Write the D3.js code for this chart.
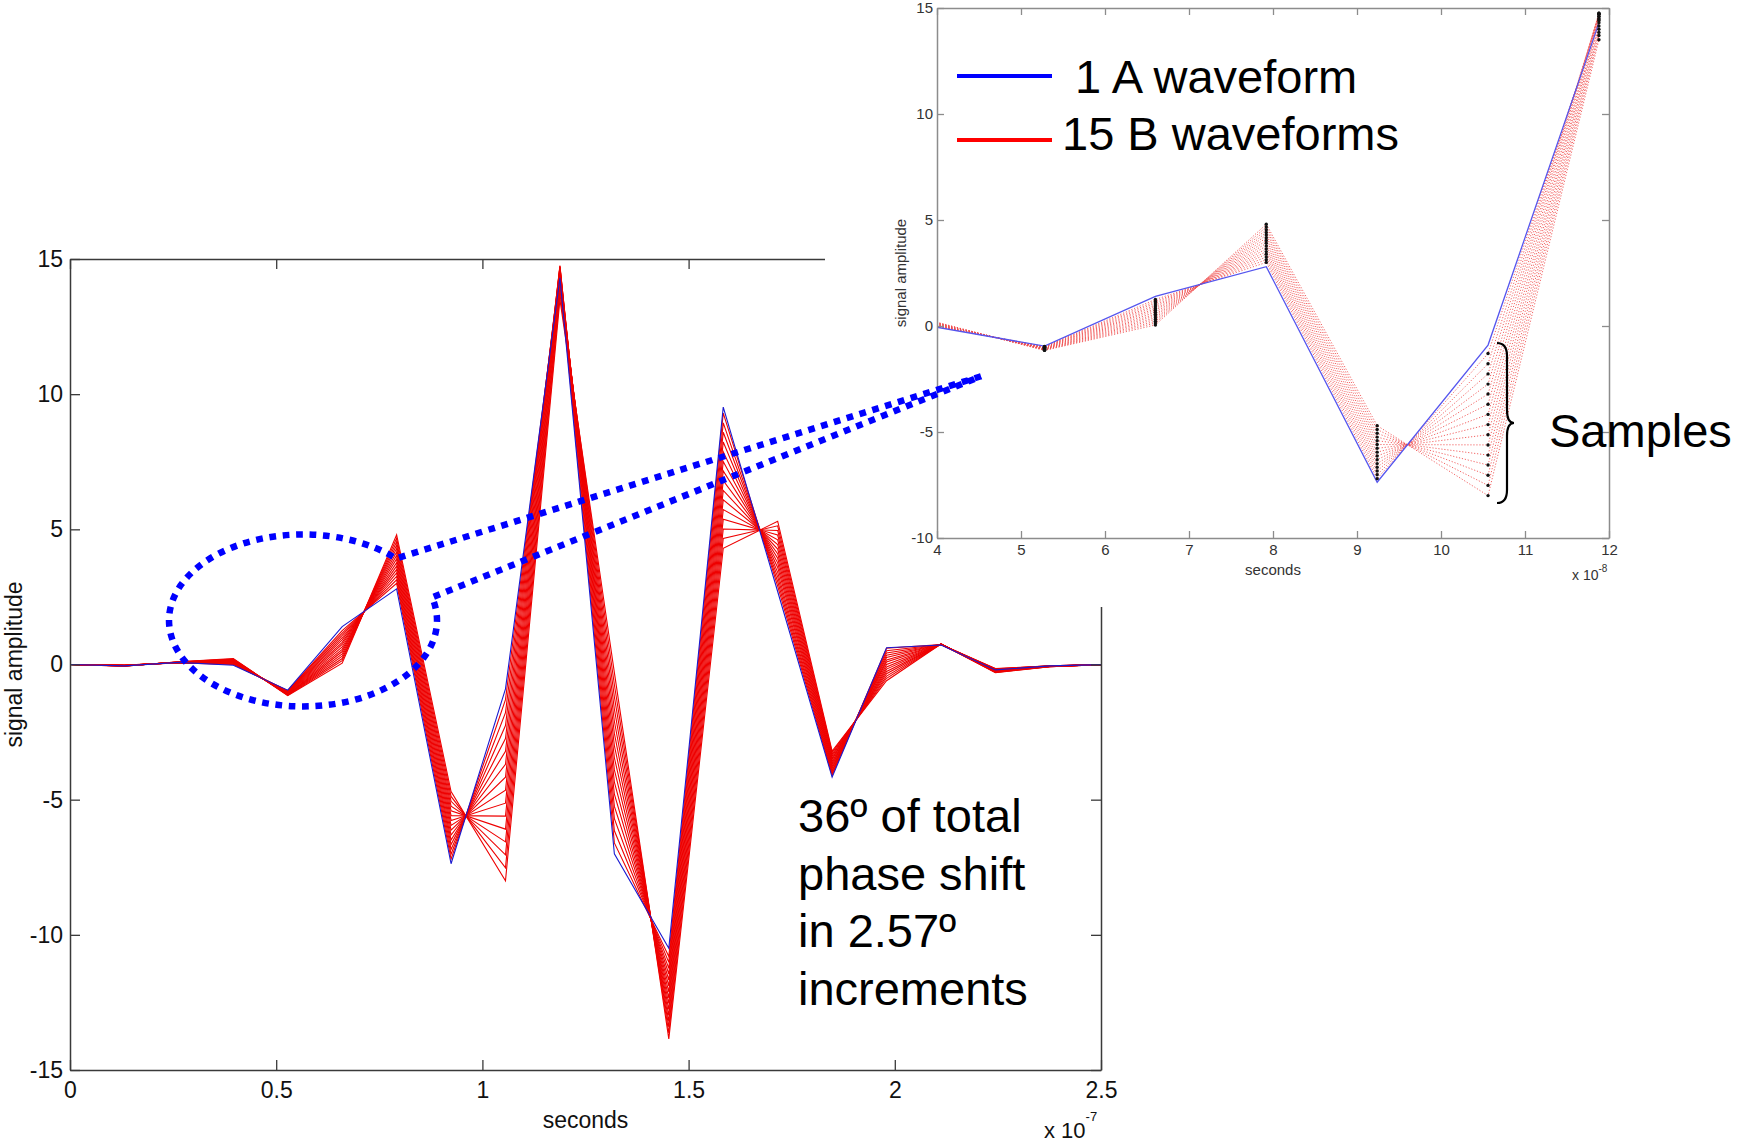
<!DOCTYPE html>
<html><head><meta charset="utf-8">
<script src="https://cdn.jsdelivr.net/npm/d3@7"></script>
<style>
html,body{margin:0;padding:0;background:#fff;}
svg{display:block;font-family:"Liberation Sans",Arial,sans-serif;}
</style></head><body>
<svg id="chart" width="1738" height="1145"></svg>
<script>
// ---------- DATA ----------
// sample instants, in nanoseconds
const sampleTimesNs = [0, 13.2, 26.4, 39.6, 52.8, 66.0, 79.2, 92.4, 105.6, 118.8,
                       132.0, 145.2, 158.4, 171.6, 184.8, 198.0, 211.2, 224.4, 237.6, 250.8];
// samples shown in the zoomed inset (index range)
const insetSampleRange = [3, 9];
// 1 A waveform
const waveformA = [0, -0.05, 0.08, -0.03, -0.95, 1.40, 2.80, -7.37, -0.90, 14.30,
                   -7.00, -10.50, 9.52, 2.70, -4.17, 0.62, 0.72, -0.20, -0.05, 0];
// 15 B waveforms (2.57° phase steps)
const b01 = [0, -0.02, 0.06, 0.00, -0.97, 1.25, 3.00, -7.20, -1.30, 14.45, -6.60, -10.80, 9.30, 2.90, -4.10, 0.60, 0.74, -0.15, -0.05, 0];
const b02 = [0, -0.02, 0.06, 0.02, -0.98, 1.16, 3.13, -7.02, -1.78, 14.60, -6.15, -11.02, 8.94, 3.07, -4.04, 0.51, 0.74, -0.16, -0.05, 0];
const b03 = [0, -0.03, 0.07, 0.03, -1.00, 1.08, 3.26, -6.84, -2.26, 14.70, -5.70, -11.24, 8.59, 3.24, -3.97, 0.43, 0.74, -0.17, -0.05, 0];
const b04 = [0, -0.03, 0.07, 0.05, -1.01, 0.99, 3.39, -6.66, -2.74, 14.75, -5.25, -11.45, 8.23, 3.41, -3.91, 0.34, 0.74, -0.18, -0.06, 0];
const b05 = [0, -0.03, 0.07, 0.06, -1.02, 0.91, 3.51, -6.49, -3.21, 14.75, -4.80, -11.67, 7.87, 3.59, -3.84, 0.26, 0.75, -0.19, -0.06, 0];
const b06 = [0, -0.03, 0.07, 0.08, -1.03, 0.82, 3.64, -6.31, -3.69, 14.70, -4.35, -11.89, 7.51, 3.76, -3.78, 0.17, 0.75, -0.20, -0.06, 0];
const b07 = [0, -0.04, 0.08, 0.09, -1.05, 0.74, 3.77, -6.13, -4.17, 14.60, -3.90, -12.11, 7.16, 3.93, -3.71, 0.09, 0.75, -0.21, -0.06, 0];
const b08 = [0, -0.04, 0.08, 0.11, -1.06, 0.65, 3.90, -5.95, -4.65, 14.50, -3.45, -12.33, 6.80, 4.10, -3.65, 0.00, 0.75, -0.23, -0.07, 0];
const b09 = [0, -0.04, 0.08, 0.13, -1.07, 0.56, 4.03, -5.77, -5.13, 14.40, -3.00, -12.54, 6.44, 4.27, -3.59, -0.09, 0.75, -0.24, -0.07, 0];
const b10 = [0, -0.05, 0.09, 0.14, -1.09, 0.48, 4.16, -5.59, -5.61, 14.30, -2.55, -12.76, 6.09, 4.44, -3.52, -0.17, 0.75, -0.25, -0.07, 0];
const b11 = [0, -0.05, 0.09, 0.16, -1.10, 0.39, 4.29, -5.41, -6.09, 14.15, -2.10, -12.98, 5.73, 4.61, -3.46, -0.26, 0.75, -0.26, -0.07, 0];
const b12 = [0, -0.05, 0.09, 0.17, -1.11, 0.31, 4.41, -5.24, -6.56, 14.00, -1.65, -13.20, 5.37, 4.79, -3.39, -0.34, 0.76, -0.27, -0.07, 0];
const b13 = [0, -0.05, 0.09, 0.19, -1.12, 0.22, 4.54, -5.06, -7.04, 13.85, -1.20, -13.41, 5.01, 4.96, -3.33, -0.43, 0.76, -0.28, -0.08, 0];
const b14 = [0, -0.06, 0.10, 0.20, -1.14, 0.14, 4.67, -4.88, -7.52, 13.70, -0.75, -13.63, 4.66, 5.13, -3.26, -0.51, 0.76, -0.29, -0.08, 0];
const b15 = [0, -0.06, 0.10, 0.22, -1.15, 0.05, 4.80, -4.70, -8.00, 13.50, -0.30, -13.85, 4.30, 5.30, -3.20, -0.60, 0.76, -0.30, -0.08, 0];
const waveformsB = [b01, b02, b03, b04, b05, b06, b07, b08, b09, b10, b11, b12, b13, b14, b15];

const mainXTicksNs = [0, 50, 100, 150, 200, 250];
const mainXTickLabels = ["0", "0.5", "1", "1.5", "2", "2.5"];
const mainYTicks = [-15, -10, -5, 0, 5, 10, 15];
const insetXTicksNs = [40, 50, 60, 70, 80, 90, 100, 110, 120];
const insetXTickLabels = ["4", "5", "6", "7", "8", "9", "10", "11", "12"];
const insetYTicks = [-10, -5, 0, 5, 10, 15];
const legendLabels = [" 1 A waveform", "15 B waveforms"];
const noteLines = ["36º of total", "phase shift", "in 2.57º", "increments"];

// ---------- DRAW ----------
const svg = d3.select("#chart");
const defs = svg.append("defs");
const fmtInt = d => String(d);

// main axes
const mx = d3.scaleLinear().domain([0, 250]).range([70, 1101]);
const my = d3.scaleLinear().domain([-15, 15]).range([1070, 259]);

defs.append("clipPath").attr("id", "mainClip").append("rect")
  .attr("x", mx(0)).attr("y", my(15)).attr("width", mx(250) - mx(0)).attr("height", my(-15) - my(15));

const main = svg.append("g");
const line = (xs, ys, offset) => d3.line().x((d, i) => xs(sampleTimesNs[i + offset])).y(d => ys(d));

const mainData = main.append("g").attr("clip-path", "url(#mainClip)");
mainData.selectAll("path.b").data(waveformsB).join("path")
  .attr("class", "b").attr("d", line(mx, my, 0))
  .attr("fill", "none").attr("stroke", "#ee0000").attr("stroke-width", 1.1);
mainData.append("path").datum(waveformA).attr("d", line(mx, my, 0))
  .attr("fill", "none").attr("stroke", "#1a1ad0").attr("stroke-width", 1.1);

function styleAxis(g, color, fsize, tcolor) {
  g.selectAll(".domain").attr("stroke", color).attr("stroke-width", 1.5);
  g.selectAll(".tick line").attr("stroke", color).attr("stroke-width", 1.3);
  g.selectAll(".tick text").attr("fill", tcolor).style("font-size", fsize + "px")
    .style("font-family", '"Liberation Sans", Arial, sans-serif');
}
const mainAxisColor = "#3a3a3a";
main.append("g").attr("transform", `translate(0,${my(-15)})`)
  .call(d3.axisBottom(mx).tickValues(mainXTicksNs).tickFormat((d, i) => mainXTickLabels[i]).tickSizeInner(-10).tickSizeOuter(0).tickPadding(12))
  .call(g => styleAxis(g, mainAxisColor, 23, "#111"));
main.append("g").attr("transform", `translate(${mx(0)},0)`)
  .call(d3.axisLeft(my).tickValues(mainYTicks).tickFormat(fmtInt).tickSizeInner(-10).tickSizeOuter(0).tickPadding(7))
  .call(g => styleAxis(g, mainAxisColor, 23, "#111"));
main.append("g").attr("transform", `translate(0,${my(15)})`)
  .call(d3.axisTop(mx).tickValues(mainXTicksNs).tickFormat("").tickSizeInner(-10).tickSizeOuter(0))
  .call(g => styleAxis(g, mainAxisColor, 23, "#111"));
main.append("g").attr("transform", `translate(${mx(250)},0)`)
  .call(d3.axisRight(my).tickValues(mainYTicks).tickFormat("").tickSizeInner(-10).tickSizeOuter(0))
  .call(g => styleAxis(g, mainAxisColor, 23, "#111"));

main.append("text").attr("transform", `translate(22,${(my(15) + my(-15)) / 2}) rotate(-90)`)
  .attr("text-anchor", "middle").style("font-size", "23px").attr("fill", "#111").text("signal amplitude");
main.append("text").attr("x", (mx(0) + mx(250)) / 2).attr("y", 1128)
  .attr("text-anchor", "middle").style("font-size", "23px").attr("fill", "#111").text("seconds");
const mexp = main.append("text").attr("x", 1044).attr("y", 1138).style("font-size", "22px").attr("fill", "#111");
mexp.append("tspan").text("x 10");
mexp.append("tspan").attr("dy", -17).style("font-size", "13px").text("-7");

// ---------- INSET ----------
const inset = svg.append("g");
inset.append("rect").attr("x", 825).attr("y", 0).attr("width", 913).attr("height", 607).attr("fill", "#fff");

const ix = d3.scaleLinear().domain([40, 120]).range([937, 1609]);
const iy = d3.scaleLinear().domain([-10, 15]).range([538, 8]);
defs.append("clipPath").attr("id", "insetClip").append("rect")
  .attr("x", ix(40)).attr("y", iy(15)).attr("width", ix(120) - ix(40)).attr("height", iy(-10) - iy(15));

const [i0, i1] = insetSampleRange;
const insetData = inset.append("g").attr("clip-path", "url(#insetClip)");
insetData.selectAll("path.b").data(waveformsB.map(w => w.slice(i0, i1 + 1))).join("path")
  .attr("class", "b").attr("d", line(ix, iy, i0))
  .attr("fill", "none").attr("stroke", "#f04a4a").attr("stroke-width", 1)
  .attr("stroke-dasharray", "1.2,1.8").attr("opacity", 0.85);
insetData.append("path").datum(waveformA.slice(i0, i1 + 1)).attr("d", line(ix, iy, i0))
  .attr("fill", "none").attr("stroke", "#5555ee").attr("stroke-width", 1.3);
const dots = [];
waveformsB.forEach(w => w.forEach((v, i) => {
  if (i >= i0 && i <= i1 && sampleTimesNs[i] >= 40 && sampleTimesNs[i] <= 120) dots.push([sampleTimesNs[i], v]);
}));
insetData.selectAll("circle").data(dots).join("circle")
  .attr("cx", d => ix(d[0])).attr("cy", d => iy(d[1])).attr("r", 1.7).attr("fill", "#111");

const insetAxisColor = "#8c8c8c";
inset.append("g").attr("transform", `translate(0,${iy(-10)})`)
  .call(d3.axisBottom(ix).tickValues(insetXTicksNs).tickFormat((d, i) => insetXTickLabels[i]).tickSizeInner(-7).tickSizeOuter(0).tickPadding(6))
  .call(g => styleAxis(g, insetAxisColor, 15, "#333"));
inset.append("g").attr("transform", `translate(${ix(40)},0)`)
  .call(d3.axisLeft(iy).tickValues(insetYTicks).tickFormat(fmtInt).tickSizeInner(-7).tickSizeOuter(0).tickPadding(4))
  .call(g => styleAxis(g, insetAxisColor, 15, "#333"));
inset.append("g").attr("transform", `translate(0,${iy(15)})`)
  .call(d3.axisTop(ix).tickValues(insetXTicksNs).tickFormat("").tickSizeInner(-7).tickSizeOuter(0))
  .call(g => styleAxis(g, insetAxisColor, 15, "#333"));
inset.append("g").attr("transform", `translate(${ix(120)},0)`)
  .call(d3.axisRight(iy).tickValues(insetYTicks).tickFormat("").tickSizeInner(-7).tickSizeOuter(0))
  .call(g => styleAxis(g, insetAxisColor, 15, "#333"));

inset.append("text").attr("transform", `translate(906,${(iy(15) + iy(-10)) / 2}) rotate(-90)`)
  .attr("text-anchor", "middle").style("font-size", "15px").attr("fill", "#333").text("signal amplitude");
inset.append("text").attr("x", (ix(40) + ix(120)) / 2).attr("y", 575)
  .attr("text-anchor", "middle").style("font-size", "15px").attr("fill", "#333").text("seconds");
const iexp = inset.append("text").attr("x", 1572).attr("y", 580).style("font-size", "14px").attr("fill", "#333");
iexp.append("tspan").text("x 10");
iexp.append("tspan").attr("dy", -8).style("font-size", "10px").text("-8");

// legend
const legendColors = ["#0000ff", "#ff0000"];
const legendLineY = [76, 140];
const legendTextY = [93, 150];
const legend = inset.append("g");
legendLabels.forEach((lab, i) => {
  legend.append("line").attr("x1", 957).attr("x2", 1052).attr("y1", legendLineY[i]).attr("y2", legendLineY[i])
    .attr("stroke", legendColors[i]).attr("stroke-width", 4);
  legend.append("text").attr("x", 1062).attr("y", legendTextY[i]).style("font-size", "47px")
    .attr("fill", "#000").attr("xml:space", "preserve").style("white-space", "pre").text(lab);
});

// Samples brace
inset.append("path")
  .attr("d", "M1497,343 Q1507,343 1507,356 L1507,410 Q1507,423 1514,423 Q1507,423 1507,436 L1507,490 Q1507,503 1497,503")
  .attr("fill", "none").attr("stroke", "#000").attr("stroke-width", 2.2);
inset.append("text").attr("x", 1549).attr("y", 447).style("font-size", "47px").attr("fill", "#000").text("Samples");

// ---------- callout (blue dotted) ----------
const cx = mx(56.5), cy = my(1.63), rx = 134, ry = 86;
const a0 = -46 * Math.PI / 180, a1 = -15.5 * Math.PI / 180;
const p0 = [cx + rx * Math.cos(a0), cy + ry * Math.sin(a0)];
const p1 = [cx + rx * Math.cos(a1), cy + ry * Math.sin(a1)];
const tip = [ix(45.24), iy(-2.37)];
svg.append("path")
  .attr("d", `M${tip[0]},${tip[1]} L${p0[0]},${p0[1]} A${rx},${ry} 0 1 0 ${p1[0]},${p1[1]} L${tip[0]},${tip[1]}`)
  .attr("fill", "none").attr("stroke", "#0000ff").attr("stroke-width", 6.5)
  .attr("stroke-dasharray", "6.7,6.7");

// ---------- note text ----------
const note = svg.append("text").style("font-size", "47px").attr("fill", "#000");
noteLines.forEach((t, i) => {
  note.append("tspan").attr("x", 798).attr("y", 832 + i * 57.5).text(t);
});
</script>
</body></html>
